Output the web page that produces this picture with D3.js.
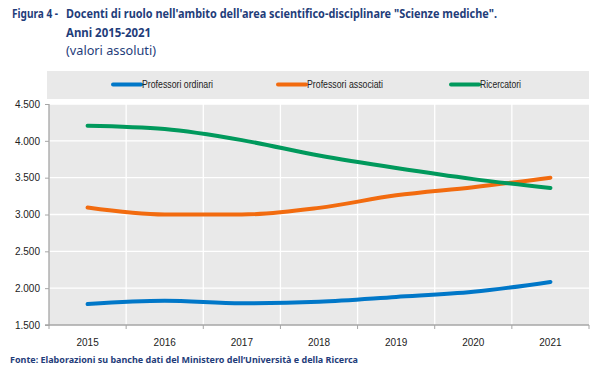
<!DOCTYPE html>
<html>
<head>
<meta charset="utf-8">
<script src="https://cdn.jsdelivr.net/npm/d3@7"></script>
<style>
  body { margin: 0; background: #fff; }
  svg { display: block; }
</style>
</head>
<body>
<div id="chart"></div>
<script>
// data
var years = ["2015", "2016", "2017", "2018", "2019", "2020", "2021"];
var ordinari = [1785, 1830, 1795, 1815, 1880, 1950, 2085];
var associati = [3095, 3000, 3000, 3090, 3260, 3370, 3500];
var ricercatori = [4205, 4160, 4010, 3800, 3630, 3480, 3360];
var yTicks = [1500, 2000, 2500, 3000, 3500, 4000, 4500];

var series = [
  {name: "Professori ordinari", values: ordinari, color: "#0077c8"},
  {name: "Professori associati", values: associati, color: "#f26b0f"},
  {name: "Ricercatori", values: ricercatori, color: "#00995c"}
];

var width = 595, height = 372;
var pLeft = 49, pRight = 589, pTop = 104, pBottom = 325;

var svg = d3.select("#chart").append("svg")
  .attr("width", width)
  .attr("height", height);

var titleColor = "#1f3d7a";
var titleFont = "'Noto Sans', 'Open Sans', sans-serif";

function label(x, y, txt, len, bold, size){
  var t = svg.append("text")
    .attr("x", x).attr("y", y)
    .style("font-family", titleFont)
    .style("font-weight", bold ? "bold" : "normal")
    .style("font-size", size + "px").attr("fill", titleColor)
    .text(txt);
  if(len) t.attr("textLength", len).attr("lengthAdjust", "spacingAndGlyphs");
  return t;
}

// title
label(12, 18, "Figura 4 -", 46, true, 13);
label(66, 18, "Docenti di ruolo nell'ambito dell'area scientifico-disciplinare \"Scienze mediche\".", 431, true, 13);
label(66, 37, "Anni 2015-2021", 85, true, 13);
label(66, 55, "(valori assoluti)", 90, false, 13);

// legend
svg.append("rect")
  .attr("x", 47).attr("y", 71)
  .attr("width", pRight - 47).attr("height", 28)
  .attr("fill", "#e9e9e9");

var legendX = [113, 278, 451];
var legendLen = [71, 76, 41];
series.forEach(function(s, i){
  svg.append("line")
    .attr("x1", legendX[i]).attr("x2", legendX[i] + 28)
    .attr("y1", 84.5).attr("y2", 84.5)
    .attr("stroke", s.color).attr("stroke-width", 4)
    .attr("stroke-linecap", "round");
  svg.append("text")
    .attr("x", legendX[i] + 29).attr("y", 88)
    .attr("textLength", legendLen[i]).attr("lengthAdjust", "spacingAndGlyphs")
    .style("font-family", "'Liberation Sans', Arial, sans-serif")
    .style("font-size", "10px").attr("fill", "#222")
    .text(s.name);
});

// scales
var xScale = d3.scaleBand()
  .domain(years)
  .range([pLeft, pRight]);

var yScale = d3.scaleLinear()
  .domain([1500, 4500])
  .range([pBottom, pTop]);

// plot area
svg.append("rect")
  .attr("x", pLeft).attr("y", pTop)
  .attr("width", pRight - pLeft).attr("height", pBottom - pTop)
  .attr("fill", "#e9e9e9");

// grid
svg.append("g").selectAll("line")
  .data(yTicks.slice(1))
  .enter().append("line")
    .attr("x1", pLeft).attr("x2", pRight)
    .attr("y1", function(d){ return yScale(d); })
    .attr("y2", function(d){ return yScale(d); })
    .attr("stroke", "#fff").attr("stroke-width", 1.3);

svg.append("g").selectAll("line")
  .data(years.slice(1))
  .enter().append("line")
    .attr("x1", function(d){ return xScale(d); })
    .attr("x2", function(d){ return xScale(d); })
    .attr("y1", pTop).attr("y2", pBottom)
    .attr("stroke", "#fff").attr("stroke-width", 1.3);

// axes
var fmt = function(d){ return d3.format(",")(d).replace(",", "."); };

var yAxis = svg.append("g")
  .attr("transform", "translate(" + pLeft + ",0)")
  .call(d3.axisLeft(yScale).tickValues(yTicks).tickFormat(fmt).tickSize(4).tickPadding(5));

var xAxis = svg.append("g")
  .attr("transform", "translate(0," + pBottom + ")")
  .call(d3.axisBottom(xScale).tickSize(0).tickPadding(14));

// x tick marks at band boundaries
svg.append("g").selectAll("line")
  .data(years.concat(["end"]))
  .enter().append("line")
    .attr("x1", function(d, i){ return pLeft + i * xScale.bandwidth(); })
    .attr("x2", function(d, i){ return pLeft + i * xScale.bandwidth(); })
    .attr("y1", pBottom).attr("y2", pBottom + 4)
    .attr("stroke", "#a6a6a6").attr("stroke-width", 1);

[yAxis, xAxis].forEach(function(ax){
  ax.select(".domain").attr("stroke", "#a6a6a6").attr("stroke-width", 1.3);
  ax.selectAll(".tick line").attr("stroke", "#a6a6a6");
  ax.selectAll("text")
    .style("font-family", "'Liberation Sans', Arial, sans-serif")
    .style("font-size", "10px").attr("fill", "#222");
});
yAxis.select(".domain").attr("d", "M-4," + pBottom + "H0V" + pTop);
xAxis.select(".domain").attr("d", "M" + pLeft + ",0H" + pRight);

// lines
var line = d3.line()
  .x(function(d, i){ return xScale(years[i]) + xScale.bandwidth() / 2; })
  .y(function(d){ return yScale(d); })
  .curve(d3.curveMonotoneX);

svg.append("g").selectAll("path")
  .data(series)
  .enter().append("path")
    .attr("d", function(d){ return line(d.values); })
    .attr("fill", "none")
    .attr("stroke", function(d){ return d.color; })
    .attr("stroke-width", 4)
    .attr("stroke-linecap", "round");

// source
label(10, 363, "Fonte: Elaborazioni su banche dati del Ministero dell\u2019Universit\u00e0 e della Ricerca", 348, true, 9);
</script>
</body>
</html>
